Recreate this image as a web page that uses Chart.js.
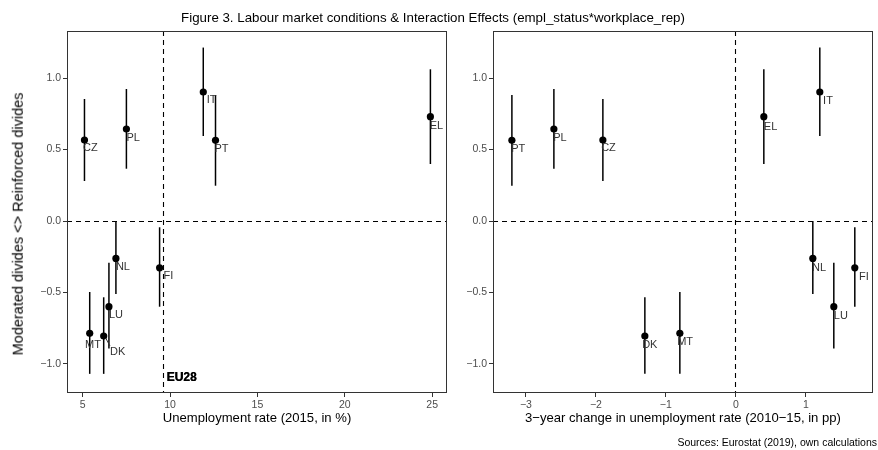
<!DOCTYPE html>
<html>
<head>
<meta charset="utf-8">
<script src="https://cdn.jsdelivr.net/npm/chart.js@4.4.1/dist/chart.umd.min.js"></script>
<style>
  html, body { margin:0; padding:0; background:#fff; }
  body { width:878px; height:450px; position:relative; overflow:hidden; font-family:'Liberation Sans', Arial, Helvetica, sans-serif; }
  canvas { position:absolute; top:0; }
  .txt { position:absolute; white-space:nowrap; color:#000; line-height:1; }
</style>
</head>
<body>
<canvas id="left" width="460" height="450" style="left:0px"></canvas>
<canvas id="right" width="438" height="450" style="left:440px"></canvas>
<div class="txt" id="title" style="left:433px; top:17.5px; font-size:13.3px; transform:translate(-50%,-50%);">Figure 3. Labour market conditions &amp; Interaction Effects (empl_status*workplace_rep)</div>
<div class="txt" id="ytitle" style="left:18px; top:224px; font-size:14.5px; transform:translate(-50%,-50%) rotate(-90deg);">Moderated divides &lt;&gt; Reinforced divides</div>
<div class="txt" style="left:257px; top:418px; font-size:13.1px; transform:translate(-50%,-50%);">Unemployment rate (2015, in %)</div>
<div class="txt" style="left:683px; top:418px; font-size:13.1px; transform:translate(-50%,-50%);">3−year change in unemployment rate (2010−15, in pp)</div>
<div class="txt" style="right:1px; top:441.5px; font-size:10.5px; transform:translateY(-50%);">Sources: Eurostat (2019), own calculations</div>
<script>
// ---------- data ----------
const countries   = ['CZ', 'PL', 'IT', 'PT', 'EL', 'NL', 'FI', 'LU', 'MT', 'DK'];
const unemp2015   = [5.1, 7.5, 11.9, 12.6, 24.9, 6.9, 9.4, 6.5, 5.4, 6.2];
const change3yr   = [-1.9, -2.6, 1.2, -3.2, 0.4, 1.1, 1.7, 1.4, -0.8, -1.3];
const effect      = [0.567, 0.644, 0.903, 0.565, 0.730, -0.262, -0.328, -0.600, -0.786, -0.805];
const ciLow       = [0.280, 0.366, 0.595, 0.247, 0.399, -0.511, -0.600, -0.892, -1.070, -1.070];
const ciHigh      = [0.854, 0.924, 1.214, 0.882, 1.062, 0.000, -0.044, -0.292, -0.497, -0.534];
const eu28Unemp   = 9.6;
const yTicks      = [-1.0, -0.5, 0.0, 0.5, 1.0];
const xTicksLeft  = [5, 10, 15, 20, 25];
const xTicksRight = [-3, -2, -1, 0, 1];

// label offsets (layout only, pixels)
const labelOffsetsLeft = {
  CZ:[-1.5, 7.5], PL:[0, 8.5], IT:[3.5, 8], PT:[-1, 8.5], EL:[-0.7, 9],
  NL:[0, 9], FI:[4, 8.5], LU:[0, 8.5], MT:[-4.7, 11.6], DK:[6.3, 16]
};
const labelOffsetsRight = {
  CZ:[-1.7, 8], PL:[-0.7, 9], IT:[3.3, 9], PT:[-0.7, 8.5], EL:[0, 10],
  NL:[-0.7, 9.5], FI:[4.3, 9.3], LU:[0, 9], MT:[-2.7, 8.5], DK:[-2.7, 9]
};
const leaderLines = { left: { DK: true } };

const FONT = "'Liberation Sans', Arial, Helvetica, sans-serif";

function minusFmt(v, digits) {
  const s = Number(v).toFixed(digits);
  return s.replace('-', '\u2212');
}
function crisp(p) { return Math.round(p - 0.5) + 0.5; }

function makePanel(canvasId, xs, xMin, xMax, xTicks, vLineX, offsets, leaders, yAxisWidth, padRight, eu) {
  const pts = xs.map((x, i) => ({ x: x, y: effect[i] }));
  const panelPlugin = {
    id: 'panel_' + canvasId,
    beforeDatasetsDraw(chart) {
      const ctx = chart.ctx, a = chart.chartArea;
      const xs_ = chart.scales.x, ys_ = chart.scales.y;
      ctx.save();
      // dashed reference lines
      ctx.strokeStyle = '#000';
      ctx.lineWidth = 1.1;
      ctx.setLineDash([5, 4]);
      const y0 = crisp(ys_.getPixelForValue(0));
      ctx.beginPath(); ctx.moveTo(a.left, y0); ctx.lineTo(a.right, y0); ctx.stroke();
      const xv = crisp(xs_.getPixelForValue(vLineX));
      ctx.beginPath(); ctx.moveTo(xv, a.top); ctx.lineTo(xv, a.bottom); ctx.stroke();
      ctx.setLineDash([]);
      // error bars
      ctx.strokeStyle = '#000';
      ctx.lineWidth = 1.5;
      xs.forEach((x, i) => {
        const px = xs_.getPixelForValue(x);
        ctx.beginPath();
        ctx.moveTo(px, ys_.getPixelForValue(ciLow[i]));
        ctx.lineTo(px, ys_.getPixelForValue(ciHigh[i]));
        ctx.stroke();
      });
      ctx.restore();
    },
    afterDatasetsDraw(chart) {
      const ctx = chart.ctx, a = chart.chartArea;
      const xs_ = chart.scales.x, ys_ = chart.scales.y;
      ctx.save();
      ctx.font = '11px ' + FONT;
      ctx.fillStyle = '#333';
      ctx.textAlign = 'left';
      ctx.textBaseline = 'middle';
      xs.forEach((x, i) => {
        const c = countries[i];
        const px = xs_.getPixelForValue(x), py = ys_.getPixelForValue(effect[i]);
        const o = offsets[c] || [0, 8.5];
        if (leaders && leaders[c]) {
          ctx.strokeStyle = '#333'; ctx.lineWidth = 1;
          ctx.beginPath(); ctx.moveTo(px + 2, py + 2); ctx.lineTo(px + o[0], py + o[1] - 6); ctx.stroke();
        }
        ctx.fillText(c, px + o[0], py + o[1]);
      });
      if (eu) {
        const xv = xs_.getPixelForValue(vLineX) + 3.5;
        const yv = ys_.getPixelForValue(-1.1);
        ctx.font = 'bold 12px ' + FONT;
        ctx.fillStyle = '#000';
        ctx.fillText('EU28', xv, yv);
        ctx.fillText('EU28', xv + 0.3, yv);
      }
      // panel border
      ctx.strokeStyle = '#333';
      ctx.lineWidth = 1;
      ctx.strokeRect(Math.round(a.left) + 0.5, Math.round(a.top) + 0.5, Math.round(a.right - a.left) - 1, Math.round(a.bottom - a.top) - 1);
      ctx.restore();
    }
  };

  return new Chart(document.getElementById(canvasId), {
    type: 'scatter',
    data: {
      datasets: [{
        data: pts,
        backgroundColor: '#000',
        borderWidth: 0,
        pointRadius: 3.6,
        pointHoverRadius: 3.6
      }]
    },
    options: {
      responsive: false,
      animation: false,
      devicePixelRatio: 1,
      layout: { padding: { left: 0, top: 31, right: padRight, bottom: 0 } },
      plugins: { legend: { display: false }, tooltip: { enabled: false }, title: { display: false } },
      scales: {
        x: {
          type: 'linear', min: xMin, max: xMax,
          afterBuildTicks: s => { s.ticks = xTicks.map(v => ({ value: v })); },
          afterFit: s => { s.height = 57; },
          grid: { display: true, drawOnChartArea: false, drawTicks: true, tickLength: 4, color: '#333', tickColor: '#333' },
          border: { display: false },
          ticks: { color: '#4d4d4d', font: { family: FONT, size: 10.5 }, padding: 2, maxRotation: 0,
                   callback: v => minusFmt(v, 0) }
        },
        y: {
          type: 'linear', min: -1.204, max: 1.33,
          afterBuildTicks: s => { s.ticks = yTicks.map(v => ({ value: v })); },
          afterFit: s => { s.width = yAxisWidth; },
          grid: { display: true, drawOnChartArea: false, drawTicks: true, tickLength: 4, color: '#333', tickColor: '#333' },
          border: { display: false },
          ticks: { color: '#4d4d4d', font: { family: FONT, size: 10.5 }, padding: 2,
                   callback: v => minusFmt(v, 1) }
        }
      }
    },
    plugins: [panelPlugin]
  });
}

makePanel('left', unemp2015, 4.1, 25.85, xTicksLeft, eu28Unemp, labelOffsetsLeft, leaderLines.left, 67, 13, true);
makePanel('right', change3yr, -3.47, 1.96, xTicksRight, 0, labelOffsetsRight, null, 53, 5, false);
</script>
</body>
</html>
